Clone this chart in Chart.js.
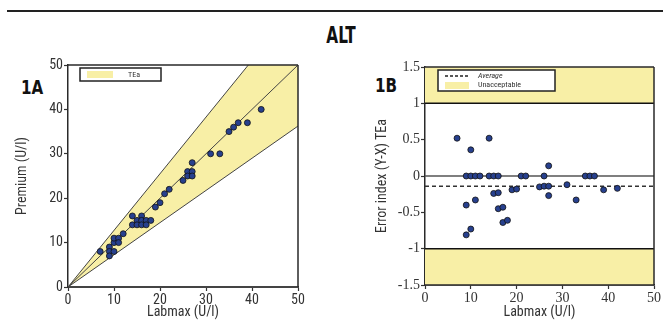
<!DOCTYPE html>
<html>
<head>
<meta charset="utf-8">
<script src="https://cdn.jsdelivr.net/npm/chart.js@4.4.0/dist/chart.umd.min.js"></script>
<style>
body { margin: 0; width: 663px; height: 321px; background: #fff; position: relative; overflow: hidden;
       font-family: 'DejaVu Sans', sans-serif; font-stretch: condensed; }
#rule { position: absolute; left: 7px; top: 10px; width: 656px; height: 2px; background: #222; }
#title { position: absolute; left: 291px; top: 22px; width: 100px; text-align: center; font-size: 23px; font-weight: bold; color: #111;
         transform: scaleX(0.74); transform-origin: 50px 0; }
.panel { position: absolute; font-size: 20px; font-weight: bold; color: #111; transform: scaleX(0.84); transform-origin: 0 0; }
.wrap { position: absolute; top: 50px; height: 271px; }
</style>
</head>
<body>
<div id="rule"></div>
<div id="title">ALT</div>
<div class="panel" style="left:21px;top:75px;">1A</div>
<div class="panel" style="left:375px;top:73px;">1B</div>
<div class="wrap" style="left:0;width:310px;"><canvas id="chartA" width="310" height="271"></canvas></div>
<div class="wrap" style="left:340px;width:323px;"><canvas id="chartB" width="323" height="271"></canvas></div>
<script>
// Labmax vs Premium, one entry per sample
const labmax  = [7, 9, 9, 9, 10, 10, 10, 11, 11, 12, 14, 14, 15, 15, 16, 16, 16, 17, 17, 18, 19, 20, 21, 22, 25, 26, 26, 27, 27, 27, 31, 33, 35, 36, 37, 39, 42];
const premium = [8, 9, 8, 7, 10, 11, 8, 11, 10, 12, 14, 16, 15, 14, 16, 15, 14, 15, 14, 15, 18, 19, 21, 22, 24, 26, 25, 26, 25, 28, 30, 30, 35, 36, 37, 37, 40];
const errorIndex = [0.52, 0, -0.40, -0.81, 0, 0.36, -0.73, 0, -0.33, 0, 0, 0.52, 0, -0.24, 0, -0.23, -0.45, -0.43, -0.64, -0.61,
                    -0.19, -0.18, 0, 0, -0.15, 0, -0.14, -0.14, -0.27, 0.14, -0.12, -0.33, 0, 0, 0, -0.19, -0.17];
const averageIndex = -0.14;
const limits = [1, -1];

// TEa band edges (panel 1A)
const teaUpper = [{x: 0, y: 0}, {x: 39.2, y: 50}];
const teaLower = [{x: 0, y: 0}, {x: 50, y: 36.25}];
const identity = [{x: 0, y: 0}, {x: 50, y: 50}];

const axisMax = 50;
const xTicks = [0, 10, 20, 30, 40, 50];
const yTicksB = [-1.5, -1, -0.5, 0, 0.5, 1, 1.5];

const YELLOW = '#f8efa6';
const POINT = '#27408e';
const narrow = "'Roboto Condensed', 'DejaVu Sans', sans-serif";
const serif = "'Liberation Serif', serif";

function line(data, color, width, extra) {
    return Object.assign({ data: data, showLine: true, borderColor: color, borderWidth: width,
        pointRadius: 0, pointHoverRadius: 0, fill: false }, extra || {});
}

// frame + legend drawn on top of the chart area
function framePlugin(sides, legend) {
    return {
        id: 'frame',
        afterDraw(chart) {
            const ctx = chart.ctx, a = chart.chartArea;
            ctx.save();
            ctx.strokeStyle = '#2a2a2a';
            ctx.lineWidth = 1.5;
            ctx.beginPath();
            if (sides.includes('top')) { ctx.moveTo(a.left, a.top); ctx.lineTo(a.right, a.top); }
            if (sides.includes('right')) { ctx.moveTo(a.right, a.top); ctx.lineTo(a.right, a.bottom); }
            if (sides.includes('bottom')) { ctx.moveTo(a.left, a.bottom); ctx.lineTo(a.right, a.bottom); }
            ctx.stroke();
            legend(ctx, a);
            ctx.restore();
        }
    };
}

function legendA(ctx, a) {
    const x = a.left + 12, y = a.top + 3;
    ctx.fillStyle = '#fff';
    ctx.fillRect(x, y, 81, 13);
    ctx.strokeStyle = '#222';
    ctx.lineWidth = 1.5;
    ctx.strokeRect(x, y, 81, 13);
    ctx.fillStyle = YELLOW;
    ctx.fillRect(x + 7, y + 3, 26, 7);
    ctx.fillStyle = '#333';
    ctx.font = "condensed 8px " + narrow;
    ctx.textBaseline = 'middle';
    ctx.fillText('TEa', x + 48, y + 7);
}

function legendB(ctx, a) {
    const x = a.left + 13, y = a.top + 3;
    ctx.fillStyle = '#fff';
    ctx.fillRect(x, y, 117, 21);
    ctx.strokeStyle = '#222';
    ctx.lineWidth = 1.5;
    ctx.strokeRect(x, y, 117, 21);
    ctx.setLineDash([3, 2]);
    ctx.beginPath();
    ctx.moveTo(x + 7, y + 6);
    ctx.lineTo(x + 31, y + 6);
    ctx.stroke();
    ctx.setLineDash([]);
    ctx.fillStyle = YELLOW;
    ctx.fillRect(x + 7, y + 12, 24, 7);
    ctx.fillStyle = '#333';
    ctx.textBaseline = 'middle';
    ctx.font = "italic condensed 8px " + narrow;
    ctx.fillText('Average', x + 40, y + 6);
    ctx.font = "condensed 8px " + narrow;
    ctx.fillText('Unacceptable', x + 40, y + 15);
}

function axis(min, max, ticks, title, fit, opts) {
    return Object.assign({
        type: 'linear', min: min, max: max,
        afterBuildTicks: s => { s.ticks = ticks.map(v => ({ value: v })); },
        afterFit: fit,
        ticks: { color: '#333', padding: 1, font: { family: narrow, style: 'condensed', size: 14 }, callback: v => String(v) },
        grid: { drawOnChartArea: false, drawTicks: true, tickLength: 4, color: '#333', tickWidth: 1.2 },
        border: { color: '#2a2a2a', width: 1.5 },
        title: { display: true, text: title, color: '#333', font: { family: narrow, style: 'condensed', size: 14 }, padding: { top: 14, bottom: 0 } }
    }, opts || {});
}

const pointsA = labmax.map((v, i) => ({ x: v, y: premium[i] }));
const pointsB = labmax.map((v, i) => ({ x: v, y: errorIndex[i] }));
const band = [...teaUpper, {x: axisMax, y: axisMax}, ...teaLower.slice().reverse()];

new Chart(document.getElementById('chartA'), {
    type: 'scatter',
    data: {
        datasets: [
            line(band, 'rgba(0,0,0,0)', 0, { fill: 'shape', backgroundColor: YELLOW, order: 5 }),
            line(teaUpper, '#444', 1, { order: 4 }),
            line(teaLower, '#444', 1, { order: 4 }),
            line(identity, '#444', 1, { order: 3 }),
            { data: pointsA, backgroundColor: POINT, borderColor: '#111', borderWidth: 0.8, pointRadius: 3, order: 1 }
        ]
    },
    options: {
        responsive: false, animation: false,
        layout: { padding: { top: 15, right: 12, left: 0, bottom: 0 } },
        plugins: { legend: { display: false }, tooltip: { enabled: false } },
        scales: {
            x: axis(0, axisMax, xTicks, 'Labmax (U/l)', s => { s.height = 34; },
                { border: { color: '#444', width: 2, dash: [6, 3] } }),
            y: axis(0, axisMax, xTicks, 'Premium (U/l)', s => { s.width = 68; })
        }
    },
    plugins: [framePlugin(['top', 'right'], legendA)]
});

const serifTicks = { color: '#333', padding: 1, font: { family: serif, size: 14 }, callback: v => String(v) };

new Chart(document.getElementById('chartB'), {
    type: 'scatter',
    data: {
        datasets: [
            line([{x: 0, y: limits[0]}, {x: axisMax, y: limits[0]}], '#111', 1.5, { fill: 'end', backgroundColor: YELLOW, order: 5 }),
            line([{x: 0, y: limits[1]}, {x: axisMax, y: limits[1]}], '#111', 1.5, { fill: 'start', backgroundColor: YELLOW, order: 5 }),
            line([{x: 0, y: 0}, {x: axisMax, y: 0}], '#555', 1.5, { order: 4 }),
            line([{x: 0, y: averageIndex}, {x: axisMax, y: averageIndex}], '#333', 1.5, { borderDash: [4, 3], order: 3 }),
            { data: pointsB, backgroundColor: POINT, borderColor: '#111', borderWidth: 0.8, pointRadius: 3, order: 1 }
        ]
    },
    options: {
        responsive: false, animation: false,
        layout: { padding: { top: 17, right: 9, left: 0, bottom: 0 } },
        plugins: { legend: { display: false }, tooltip: { enabled: false } },
        scales: {
            x: axis(0, axisMax, xTicks, 'Labmax (U/l)', s => { s.height = 36; }, { ticks: serifTicks }),
            y: axis(-1.5, 1.5, yTicksB, 'Error index (Y-X) TEa', s => { s.width = 85; }, {
                ticks: serifTicks,
                title: { display: true, text: 'Error index (Y-X) TEa', color: '#333',
                         font: { family: narrow, style: 'condensed', size: 14 }, padding: { top: 34, bottom: 0 } }
            })
        }
    },
    plugins: [framePlugin(['top', 'right', 'bottom'], legendB)]
});
</script>
</body>
</html>
